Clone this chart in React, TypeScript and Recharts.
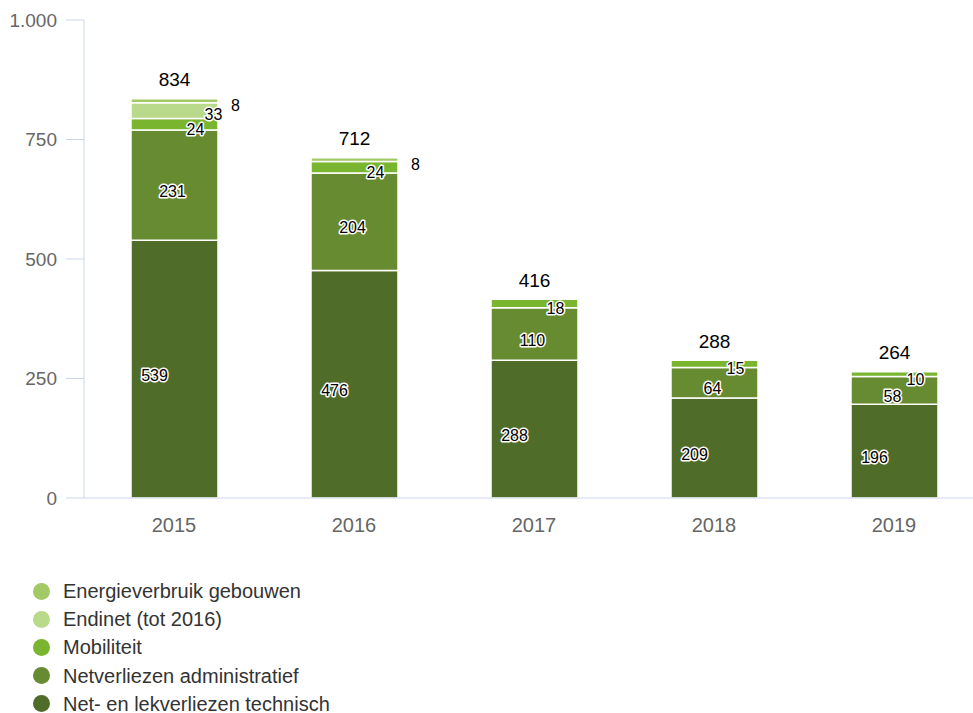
import React from 'react';
import { BarChart, Bar, XAxis, YAxis, LabelList } from 'recharts';

const years = ['2015', '2016', '2017', '2018', '2019'];
const technisch = [539, 476, 288, 209, 196];
const administratief = [231, 204, 110, 64, 58];
const mobiliteit = [24, 24, 18, 15, 10];
const endinet = [33, 0, 0, 0, 0];
const energie = [8, 8, 0, 0, 0];
const totals = [834, 712, 416, 288, 264];
const yTicks = [0, 250, 500, 750, 1000];

const FONT = '"Liberation Sans", Arial, sans-serif';

// stacked bottom to top
const series = [
  { key: 'technisch', name: 'Net- en lekverliezen technisch', color: '#4f6c28', dx: -20, dy: 6 },
  { key: 'administratief', name: 'Netverliezen administratief', color: '#678b31', dx: -2, dy: 6 },
  { key: 'mobiliteit', name: 'Mobiliteit', color: '#79b52f', dx: 21, dy: 5 },
  { key: 'endinet', name: 'Endinet (tot 2016)', color: '#b9d98b', dx: 39, dy: 4 },
  { key: 'energie', name: 'Energieverbruik gebouwen', color: '#a3c866', dx: 61, dy: 5 },
];

const data = years.map((year, i) => ({
  year,
  technisch: technisch[i],
  administratief: administratief[i],
  mobiliteit: mobiliteit[i],
  endinet: endinet[i],
  energie: energie[i],
  total: totals[i],
}));

// which series sits on top of each stack
const topKey = data.map((d: any) => {
  let k = series[0].key;
  series.forEach((s) => {
    if (d[s.key] > 0) k = s.key;
  });
  return k;
});

const fmt = (v: number) => String(v).replace(/\B(?=(\d{3})+(?!\d))/g, '.');

const makeLabel = (dx: number, dy: number) => (props: any) => {
  const { x, y, width, height, value } = props;
  if (!value) return null;
  return (
    <text
      x={x + width / 2 + dx}
      y={y + height / 2 + dy}
      textAnchor="middle"
      dominantBaseline="central"
      fontSize={16}
      fontFamily={FONT}
      fill="#000"
      stroke="#fff"
      strokeWidth={3}
      strokeLinejoin="round"
      paintOrder="stroke"
    >
      {value}
    </text>
  );
};

const makeTotal = (key: string) => (props: any) => {
  const { x, y, width, value, index } = props;
  if (topKey[index] !== key) return null;
  return (
    <text
      x={x + width / 2}
      y={y - 19}
      textAnchor="middle"
      dominantBaseline="central"
      fontSize={19}
      fontFamily={FONT}
      fill="#000"
    >
      {value}
    </text>
  );
};

const legendItems = [...series].reverse();

export default function App() {
  return (
    <div
      style={{
        position: 'absolute',
        left: 0,
        top: 0,
        width: 973,
        height: 713,
        overflow: 'hidden',
        background: '#fff',
        fontFamily: FONT,
      }}
    >
      <BarChart
        width={990}
        height={540}
        data={data}
        margin={{ top: 20, right: 6, left: 0, bottom: 2 }}
      >
        <XAxis
          dataKey="year"
          axisLine={{ stroke: '#ccd6eb' }}
          tickLine={false}
          tick={{ fill: '#666', fontSize: 20, fontFamily: FONT }}
          tickMargin={14}
          height={40}
        />
        <YAxis
          width={84}
          domain={[0, 1000]}
          ticks={yTicks}
          tickFormatter={fmt}
          axisLine={{ stroke: '#ccd6eb' }}
          tickLine={{ stroke: '#ccd6eb' }}
          tickSize={18}
          tickMargin={9}
          tick={{ fill: '#666', fontSize: 19, fontFamily: FONT }}
        />
        {series.map((s) => (
          <Bar
            key={s.key}
            dataKey={s.key}
            name={s.name}
            stackId="a"
            fill={s.color}
            stroke="#fff"
            strokeWidth={1.5}
            barSize={87}
            isAnimationActive={false}
          >
            <LabelList dataKey={s.key} content={makeLabel(s.dx, s.dy)} />
            <LabelList dataKey="total" content={makeTotal(s.key)} />
          </Bar>
        ))}
      </BarChart>
      <div style={{ position: 'absolute', left: 33, top: 577 }}>
        {legendItems.map((s) => (
          <div
            key={s.key}
            style={{ display: 'flex', alignItems: 'center', height: 28.2 }}
          >
            <span
              style={{
                display: 'inline-block',
                width: 17,
                height: 17,
                borderRadius: '50%',
                background: s.color,
                marginRight: 13,
              }}
            />
            <span style={{ fontSize: 20, lineHeight: '18px', color: '#333' }}>{s.name}</span>
          </div>
        ))}
      </div>
    </div>
  );
}
